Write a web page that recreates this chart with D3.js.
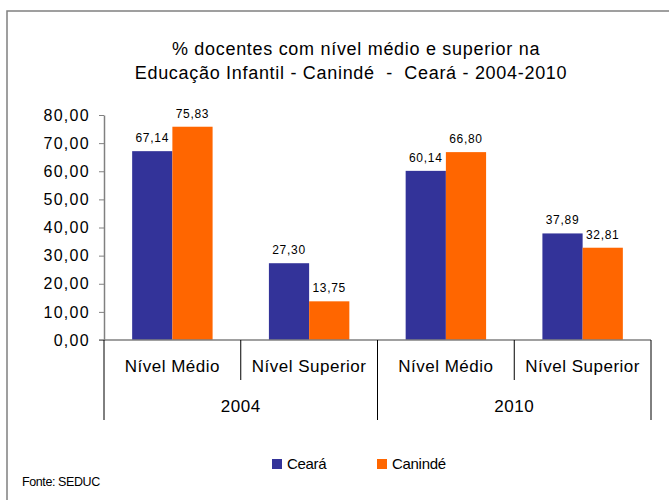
<!DOCTYPE html>
<html>
<head>
<meta charset="utf-8">
<script src="https://cdn.jsdelivr.net/npm/d3@7"></script>
<style>
  body { margin: 0; background: #fff; }
  svg { font-family: "Liberation Sans", Arial, sans-serif; }
</style>
</head>
<body>
<div id="chart"></div>
<script>
// chart data
let years = ["2004", "2010"];
let levels = ["Nível Médio", "Nível Superior"];
let seriesNames = ["Ceará", "Canindé"];
let cearaValues = [67.14, 27.30, 60.14, 37.89];
let canindeValues = [75.83, 13.75, 66.80, 32.81];
let yTicks = [0, 10, 20, 30, 40, 50, 60, 70, 80];
let colors = ["#333399", "#FF6600"];

let svgWidth = 669;
let svgHeight = 500;

let margin = { top: 115, right: 18, bottom: 160, left: 104 };
let height = svgHeight - margin.top - margin.bottom;
let width = svgWidth - margin.left - margin.right;

let svg = d3.select("#chart")
  .append("svg")
  .attr("width", svgWidth)
  .attr("height", svgHeight);

// outer frame (right/bottom edges fall outside the window)
svg.append("rect")
  .attr("x", 7)
  .attr("y", 11)
  .attr("width", 700)
  .attr("height", 520)
  .attr("fill", "none")
  .attr("stroke", "#808080")
  .attr("stroke-width", 1.5);

// title
let title = svg.append("text")
  .attr("text-anchor", "middle")
  .attr("font-size", "18px")
  .attr("letter-spacing", "0.7px")
  .attr("fill", "#000")
  .style("white-space", "pre");
title.append("tspan").attr("x", 356).attr("y", 55)
  .text("% docentes com nível médio e superior na");
title.append("tspan").attr("x", 351).attr("y", 79)
  .text("Educação Infantil - Canindé  -  Ceará - 2004-2010");

let chartGroup = svg.append("g")
  .attr("transform", `translate(${margin.left}, ${margin.top})`);

// build the flat list of categories (year x level)
let data = [];
years.forEach(function(yr, i) {
  levels.forEach(function(lv, j) {
    let k = i * levels.length + j;
    data.push({ key: yr + "|" + lv, year: yr, level: lv, values: [cearaValues[k], canindeValues[k]] });
  });
});

let x0 = d3.scaleBand()
  .domain(data.map(d => d.key))
  .range([0, width])
  .padding(0);

let x1 = d3.scaleBand()
  .domain(seriesNames)
  .range([0, x0.bandwidth()])
  .paddingInner(0)
  .paddingOuter(0.7);

let yScale = d3.scaleLinear()
  .domain([0, 80])
  .range([height, 0]);

// y-axis
let leftAxis = d3.axisLeft(yScale)
  .tickValues(yTicks)
  .tickSize(5)
  .tickSizeOuter(0)
  .tickPadding(9)
  .tickFormat(d => d3.format(".2f")(d).replace(".", ","));

let yAxisG = chartGroup.append("g")
  .attr("class", "y axis")
  .call(leftAxis);
yAxisG.select(".domain").attr("stroke", "#808080").attr("stroke-width", 1.5);
yAxisG.selectAll(".tick line").attr("stroke", "#808080");
yAxisG.selectAll(".tick text")
  .attr("font-size", "16px")
  .attr("font-family", "Liberation Sans, Arial, sans-serif")
  .attr("letter-spacing", "1.3px")
  .attr("fill", "#000");

// bars
let groups = chartGroup.selectAll(".cat")
  .data(data)
  .enter().append("g")
  .attr("class", "cat")
  .attr("transform", d => `translate(${x0(d.key)},0)`);

groups.selectAll("rect")
  .data(d => d.values.map((v, i) => ({ name: seriesNames[i], value: v, idx: i })))
  .enter().append("rect")
  .attr("x", d => x1(d.name))
  .attr("y", d => yScale(d.value))
  .attr("width", x1.bandwidth())
  .attr("height", d => height - yScale(d.value))
  .attr("fill", d => colors[d.idx]);

groups.selectAll(".lbl")
  .data(d => d.values.map((v, i) => ({ name: seriesNames[i], value: v })))
  .enter().append("text")
  .attr("class", "lbl")
  .attr("x", d => x1(d.name) + x1.bandwidth() / 2)
  .attr("y", d => yScale(d.value) - 9)
  .attr("text-anchor", "middle")
  .attr("font-size", "12px")
  .attr("letter-spacing", "0.7px")
  .attr("fill", "#000")
  .text(d => d3.format(".2f")(d.value).replace(".", ","));

// zero line
chartGroup.append("line")
  .attr("x1", -5)
  .attr("x2", width)
  .attr("y1", yScale(0))
  .attr("y2", yScale(0))
  .attr("stroke", "#808080")
  .attr("stroke-width", 1.5);

// multi-level category axis: separators
let bounds = x0.domain().map(k => x0(k)).concat([width]);
bounds.forEach(function(bx, i) {
  let isYearEdge = i % levels.length === 0;
  chartGroup.append("line")
    .attr("x1", bx)
    .attr("x2", bx)
    .attr("y1", height)
    .attr("y2", height + (isYearEdge ? 80 : 40))
    .attr("stroke", "#000")
    .attr("stroke-width", 1);
});

// level labels
chartGroup.selectAll(".lvl")
  .data(data)
  .enter().append("text")
  .attr("class", "lvl")
  .attr("x", d => x0(d.key) + x0.bandwidth() / 2)
  .attr("y", height + 32)
  .attr("text-anchor", "middle")
  .attr("font-size", "17px")
  .attr("letter-spacing", "0.5px")
  .attr("fill", "#000")
  .text(d => d.level);

// year labels
chartGroup.selectAll(".yr")
  .data(years)
  .enter().append("text")
  .attr("class", "yr")
  .attr("x", (d, i) => x0(d + "|" + levels[0]) + x0.bandwidth() * levels.length / 2)
  .attr("y", height + 72)
  .attr("text-anchor", "middle")
  .attr("font-size", "17px")
  .attr("letter-spacing", "0.5px")
  .attr("fill", "#000")
  .text(d => d);

// legend
let legend = svg.append("g")
  .attr("transform", "translate(272, 459)");

let legendItem = legend.selectAll(".leg")
  .data(seriesNames)
  .enter().append("g")
  .attr("class", "leg")
  .attr("transform", (d, i) => `translate(${i * 105}, 0)`);

legendItem.append("rect")
  .attr("width", 10)
  .attr("height", 10)
  .attr("fill", (d, i) => colors[i]);

legendItem.append("text")
  .attr("x", 15)
  .attr("y", 10)
  .attr("font-size", "15px")
  .attr("letter-spacing", "-0.3px")
  .attr("fill", "#000")
  .text(d => d);

// source note
svg.append("text")
  .attr("x", 22)
  .attr("y", 486)
  .attr("font-size", "12.5px")
  .attr("letter-spacing", "-0.4px")
  .attr("fill", "#000")
  .text("Fonte: SEDUC");
</script>
</body>
</html>
